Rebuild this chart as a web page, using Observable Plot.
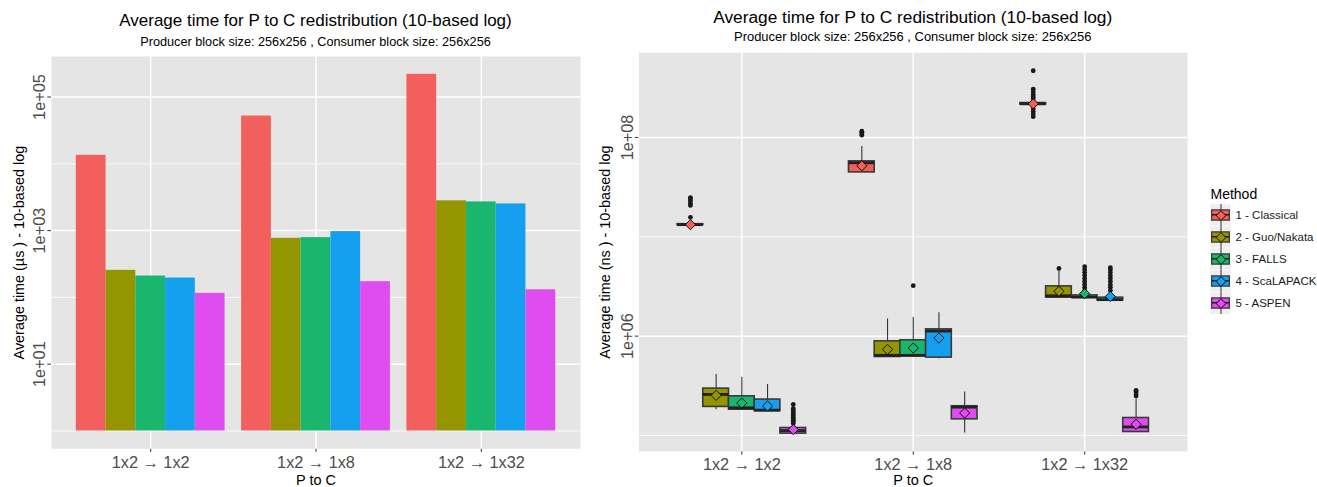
<!DOCTYPE html>
<html><head><meta charset="utf-8">
<script src="https://cdn.jsdelivr.net/npm/d3@7"></script>
<script src="https://cdn.jsdelivr.net/npm/@observablehq/plot@0.6"></script>
<style>
body{margin:0;background:#fff;font-family:"Liberation Sans",Arial,Helvetica,sans-serif;}
#root{position:relative;width:1317px;height:487px;overflow:hidden;}
.abs{position:absolute;}
.t{position:absolute;text-align:center;line-height:1;white-space:nowrap;color:#000;}
</style></head><body><div id="root"></div>
<script>
// ---------- data ----------
const categories = ["1x2 \u2192 1x2", "1x2 \u2192 1x8", "1x2 \u2192 1x32"];
const methods = ["1 - Classical", "2 - Guo/Nakata", "3 - FALLS", "4 - ScaLAPACK", "5 - ASPEN"];
const colors = ["#F25F5C", "#949500", "#1BB66D", "#15A0EF", "#DF4CF0"];

const titleText = "Average time for P to C redistribution (10-based log)";
const subtitleText = "Producer block size: 256x256 , Consumer block size: 256x256";
const xTitle = "P to C";
const leftYTitle = "Average time (\u00B5s ) - 10-based log";
const rightYTitle = "Average time (ns ) - 10-based log";
const legendTitle = "Method";

// left: average time (µs), [category][method]
const barValues = [
  [13400, 254, 209, 195, 115],
  [51900, 767, 785, 966, 172],
  [219000, 2790, 2690, 2510, 130]
];
const leftMajor = [10, 1000, 100000];
const leftMajorLabels = ["1e+01", "1e+03", "1e+05"];
const leftMinor = [1, 100, 10000];

// right: box statistics (ns), [category][method]
const boxLow = [
  [1.30e7, 1.82e5, 1.80e5, 1.74e5, 1.03e5],
  [4.45e7, 6.10e5, 6.20e5, 5.94e5, 1.06e5],
  [2.12e8, 2.43e6, 2.42e6, 2.25e6, 1.08e5]
];
const boxQ1 = [
  [1.31e7, 1.94e5, 1.82e5, 1.76e5, 1.045e5],
  [4.45e7, 6.17e5, 6.27e5, 6.08e5, 1.455e5],
  [2.15e8, 2.44e6, 2.44e6, 2.29e6, 1.085e5]
];
const boxMedian = [
  [1.325e7, 2.59e5, 1.90e5, 1.80e5, 1.12e5],
  [5.56e7, 6.41e5, 6.41e5, 1.125e6, 1.93e5],
  [2.18e8, 2.55e6, 2.47e6, 2.33e6, 1.22e5]
];
const boxQ3 = [
  [1.34e7, 2.965e5, 2.48e5, 2.30e5, 1.19e5],
  [5.74e7, 8.87e5, 9.08e5, 1.17e6, 1.97e5],
  [2.22e8, 3.17e6, 2.57e6, 2.44e6, 1.50e5]
];
const boxHigh = [
  [1.36e7, 4.10e5, 3.86e5, 3.27e5, 1.30e5],
  [8.11e7, 1.49e6, 1.54e6, 1.72e6, 2.74e5],
  [2.25e8, 4.55e6, 2.70e6, 2.60e6, 2.35e5]
];
const boxMean = [
  [1.325e7, 2.535e5, 2.12e5, 1.98e5, 1.148e5],
  [5.19e7, 7.36e5, 7.59e5, 9.57e5, 1.683e5],
  [2.18e8, 2.825e6, 2.68e6, 2.51e6, 1.297e5]
];
const outliers = [
  [[1.57e7, 2.07e7, 2.18e7, 2.30e7, 2.40e7, 2.48e7], [], [], [],
   [1.32e5, 1.37e5, 1.42e5, 1.47e5, 1.53e5, 1.59e5, 1.65e5, 1.72e5, 1.79e5, 1.87e5, 2.06e5]],
  [[1.055e8, 1.09e8, 1.13e8, 1.155e8], [], [3.22e6], [], []],
  [[1.62e8, 1.72e8, 1.82e8, 1.945e8, 2.455e8, 2.57e8, 2.69e8, 2.86e8, 3.06e8, 4.69e8],
   [4.8e6],
   [2.88e6, 3.09e6, 3.31e6, 3.55e6, 3.80e6, 4.07e6, 4.37e6, 4.68e6, 5.01e6],
   [2.88e6, 3.10e6, 3.30e6, 3.55e6, 3.80e6, 4.05e6, 4.35e6, 4.65e6, 4.90e6],
   [2.50e5, 2.62e5, 2.75e5, 2.85e5]]
];
const rightMajor = [1e6, 1e8];
const rightMajorLabels = ["1e+06", "1e+08"];
const rightMinor = [1e5, 1e7];

// ---------- helpers ----------
const FONT = '"Liberation Sans", Arial, Helvetica, sans-serif';
const PANEL = "#E5E5E5";
const TICKCOL = "#4D4D4D";
const root = document.getElementById("root");
function place(el, left, top) {
  const d = document.createElement("div");
  d.className = "abs"; d.style.left = left + "px"; d.style.top = top + "px";
  d.appendChild(el); root.appendChild(d);
}
function title(text, left, width, top, size) {
  const d = document.createElement("div");
  d.className = "t"; d.textContent = text;
  d.style.left = left + "px"; d.style.width = width + "px"; d.style.top = top + "px";
  d.style.fontSize = size + "px"; root.appendChild(d);
}
const xIdx = categories.map((c, i) => i + 1);
const colorScale = {domain: methods, range: colors};

// ---------- left: bar chart ----------
const barW = 0.9 / methods.length;
const barRows = categories.flatMap((c, ci) => methods.map((m, mi) => ({ci, mi, method: m, value: barValues[ci][mi]})));
const barCenter = d => d.ci + 1 + (d.mi - (methods.length - 1) / 2) * barW;

const leftPlot = Plot.plot({
  width: 590, height: 437,
  marginTop: 6, marginBottom: 38.7, marginLeft: 51, marginRight: 10,
  style: {fontFamily: FONT, background: "transparent", color: "#333", overflow: "visible"},
  x: {type: "linear", domain: [0.4, 3.6], ticks: xIdx, tickFormat: () => "", tickSize: 3.7, label: null},
  y: {type: "log", domain: [Math.pow(10, -0.267), Math.pow(10, 5.607)], ticks: leftMajor, tickFormat: () => "", tickSize: 3.7, label: null},
  color: colorScale,
  marks: [
    Plot.frame({fill: PANEL, stroke: "none"}),
    Plot.ruleY(leftMinor, {stroke: "white", strokeWidth: 0.8}),
    Plot.ruleY(leftMajor, {stroke: "white", strokeWidth: 1.5}),
    Plot.ruleX(xIdx, {stroke: "white", strokeWidth: 1.5}),
    Plot.rect(barRows, {x1: d => barCenter(d) - barW / 2, x2: d => barCenter(d) + barW / 2, y1: () => 1, y2: "value", fill: "method"}),
    Plot.text(leftMajor, {y: d => d, text: (d, i) => leftMajorLabels[i], frameAnchor: "left", dx: -6.5, rotate: -90, textAnchor: "middle", lineAnchor: "bottom", fontSize: 16.3, fill: TICKCOL}),
    Plot.text(categories, {x: (d, i) => i + 1, text: d => d, frameAnchor: "bottom", dy: 7.2, lineAnchor: "top", fontSize: 16.3, fill: TICKCOL}),
    Plot.text([xTitle], {frameAnchor: "bottom", dy: 25.6, lineAnchor: "top", fontSize: 14.5, fill: "#000"}),
    Plot.text([leftYTitle], {frameAnchor: "left", dx: -27.8, rotate: -90, textAnchor: "middle", lineAnchor: "bottom", fontSize: 14.4, fill: "#000"})
  ]
});
place(leftPlot, 0, 50);
title(titleText, 51, 529, 12.0, 17);
title(subtitleText, 51, 529, 35.9, 12.7);

// ---------- right: box plots ----------
const boxStep = 0.15, boxHalf = 0.075;
const boxRows = categories.flatMap((c, ci) => methods.map((m, mi) => ({
  ci, mi, method: m,
  lo: boxLow[ci][mi], q1: boxQ1[ci][mi], median: boxMedian[ci][mi], q3: boxQ3[ci][mi], hi: boxHigh[ci][mi], mean: boxMean[ci][mi]
})));
const outRows = categories.flatMap((c, ci) => methods.flatMap((m, mi) => outliers[ci][mi].map(v => ({ci, mi, method: m, value: v}))));
const boxCenter = d => d.ci + 1 + (d.mi - (methods.length - 1) / 2) * boxStep;

const rightPlot = Plot.plot({
  width: 600, height: 437,
  marginTop: 2.3, marginBottom: 36, marginLeft: 48.5, marginRight: 3,
  style: {fontFamily: FONT, background: "transparent", color: "#333", overflow: "visible"},
  x: {type: "linear", domain: [0.4, 3.6], ticks: xIdx, tickFormat: () => "", tickSize: 3.7, label: null},
  y: {type: "log", domain: [Math.pow(10, 4.839), Math.pow(10, 8.852)], ticks: rightMajor, tickFormat: () => "", tickSize: 3.7, label: null},
  color: colorScale,
  marks: [
    Plot.frame({fill: PANEL, stroke: "none"}),
    Plot.ruleY(rightMinor, {stroke: "white", strokeWidth: 0.8}),
    Plot.ruleY(rightMajor, {stroke: "white", strokeWidth: 1.5}),
    Plot.ruleX(xIdx, {stroke: "white", strokeWidth: 1.5}),
    Plot.ruleX(boxRows, {x: boxCenter, y1: "q3", y2: "hi", stroke: "#333", strokeWidth: 1.1}),
    Plot.ruleX(boxRows, {x: boxCenter, y1: "lo", y2: "q1", stroke: "#333", strokeWidth: 1.1}),
    Plot.rect(boxRows, {x1: d => boxCenter(d) - boxHalf, x2: d => boxCenter(d) + boxHalf, y1: "q1", y2: "q3", fill: "method", stroke: "#3a3a3a", strokeWidth: 1.6}),
    Plot.ruleY(boxRows, {y: "median", x1: d => boxCenter(d) - boxHalf, x2: d => boxCenter(d) + boxHalf, stroke: "#222", strokeWidth: 2.8}),
    Plot.dot(outRows, {x: boxCenter, y: "value", r: 2.4, fill: "#1a1a1a", stroke: "none"}),
    Plot.dot(boxRows, {x: boxCenter, y: "mean", symbol: "diamond2", r: 4.6, fill: "method", stroke: "#000", strokeWidth: 0.9}),
    Plot.text(rightMajor, {y: d => d, text: (d, i) => rightMajorLabels[i], frameAnchor: "left", dx: -6, rotate: -90, textAnchor: "middle", lineAnchor: "bottom", fontSize: 16.3, fill: TICKCOL}),
    Plot.text(categories, {x: (d, i) => i + 1, text: d => d, frameAnchor: "bottom", dy: 7.2, lineAnchor: "top", fontSize: 16.3, fill: TICKCOL}),
    Plot.text([xTitle], {frameAnchor: "bottom", dy: 23.2, lineAnchor: "top", fontSize: 14.5, fill: "#000"}),
    Plot.text([rightYTitle], {frameAnchor: "left", dx: -29, rotate: -90, textAnchor: "middle", lineAnchor: "bottom", fontSize: 14.4, fill: "#000"})
  ]
});
place(rightPlot, 590, 50);
title(titleText, 638.5, 548.5, 8.5, 17.3);
title(subtitleText, 638.5, 548.5, 31.3, 12.95);

// ---------- legend ----------
const legendPlot = Plot.plot({
  width: 127, height: 150,
  marginTop: 0, marginBottom: 0, marginLeft: 0, marginRight: 0,
  style: {fontFamily: FONT, background: "transparent", overflow: "visible"},
  x: {type: "linear", domain: [0, 1], range: [20, 41], axis: null},
  y: {type: "band", domain: methods, range: [28.05, 140.55], padding: 0, axis: null},
  color: colorScale,
  marks: [
    Plot.barX(methods, {x1: () => 0, x2: () => 1, y: d => d, fill: "#EEEEEE", stroke: "white", strokeWidth: 0.6}),
    Plot.tickX(methods, {x: () => 0.5, y: d => d, stroke: "#333", strokeWidth: 1}),
    Plot.barX(methods, {x1: () => 0.08, x2: () => 0.92, y: d => d, insetTop: 5.9, insetBottom: 5.9, fill: d => d, stroke: "#3a3a3a", strokeWidth: 1.3}),
    Plot.barX(methods, {x1: () => 0.08, x2: () => 0.92, y: d => d, insetTop: 10, insetBottom: 10.5, fill: "#222"}),
    Plot.dot(methods, {x: () => 0.5, y: d => d, symbol: "diamond2", r: 4.4, fill: d => d, stroke: "#000", strokeWidth: 0.9}),
    Plot.text(methods, {x: () => 1, y: d => d, text: d => d, dx: 4, textAnchor: "start", fontSize: 11.5, fill: "#1a1a1a"}),
    Plot.text([legendTitle], {frameAnchor: "top-left", dx: 20, dy: 23, textAnchor: "start", lineAnchor: "bottom", fontSize: 14, fill: "#000"})
  ]
});
place(legendPlot, 1190, 175);
</script>
</body></html>
